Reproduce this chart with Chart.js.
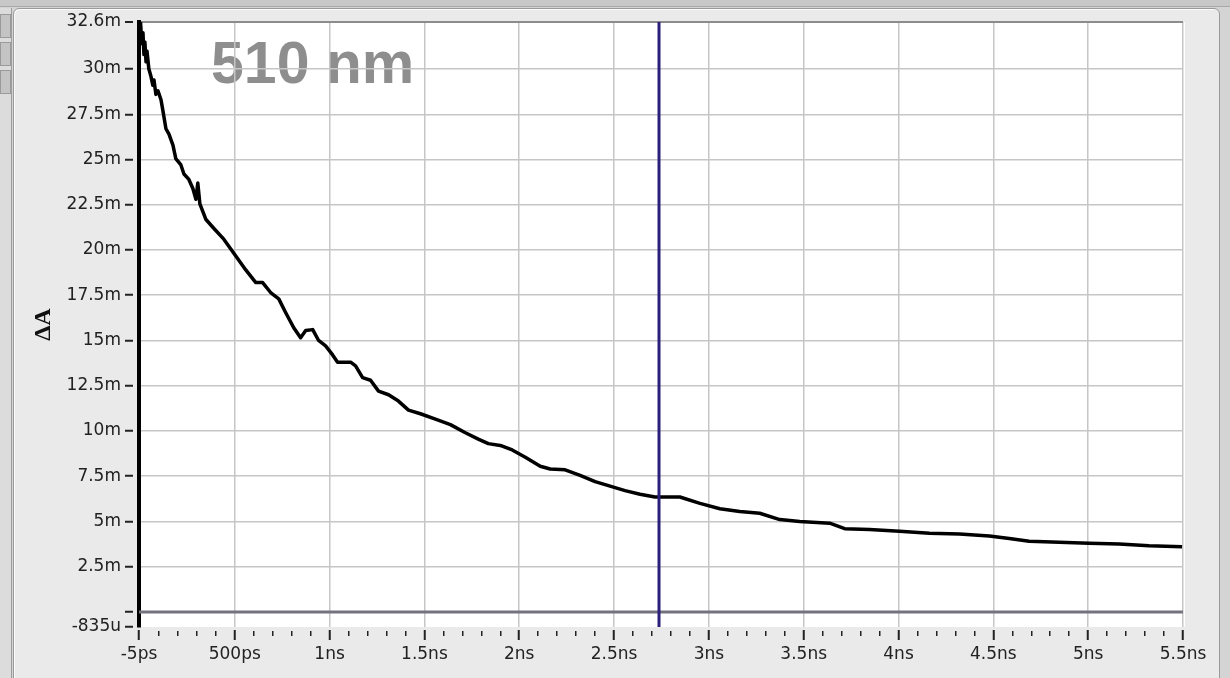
<!DOCTYPE html>
<html>
<head>
<meta charset="utf-8">
<script src="https://cdn.jsdelivr.net/npm/chart.js@4/dist/chart.umd.min.js"></script>
<style>
  body { margin: 0; background: #d4d4d4; width: 1230px; height: 678px; overflow: hidden; position: relative; }
  .topbar { position: absolute; left: 0; top: 0; width: 1230px; height: 6px; background: #c8c8c8; border-bottom: 1px solid #a8a8a8; }
  .strip { position: absolute; left: 0; top: 8px; width: 11px; height: 670px; background: #dcdcdc; border-right: 1px solid #9c9c9c; }
  .btn { position: absolute; left: 0; width: 9px; height: 22px; background: #c4c4c4; border: 1px solid #9a9a9a; }
  .panel { position: absolute; left: 13px; top: 8px; width: 1205px; height: 680px; background: #eaeaea;
           border: 1px solid #9a9a9a; border-radius: 6px; box-shadow: inset 1px 1px 0 #fafafa; }
  canvas { position: absolute; left: 0; top: 0; }
</style>
</head>
<body>
<div class="topbar"></div>
<div class="strip">
  <div class="btn" style="top:6px"></div>
  <div class="btn" style="top:34px"></div>
  <div class="btn" style="top:62px"></div>
</div>
<div class="panel"></div>
<canvas id="chart" width="1230" height="678"></canvas>
<script>
// trace: time in ns, dA in milli-units
const time_ns = [0.003, 0.01, 0.016, 0.021, 0.026, 0.032, 0.037, 0.047, 0.058, 0.068,
    0.074, 0.084, 0.095, 0.111, 0.121, 0.137, 0.153, 0.174, 0.189, 0.216,
    0.232, 0.258, 0.279, 0.295, 0.305, 0.316, 0.347, 0.389, 0.442, 0.479,
    0.558, 0.611, 0.647, 0.689, 0.732, 0.768, 0.811, 0.847, 0.874, 0.911,
    0.942, 0.979, 1.016, 1.042, 1.111, 1.137, 1.174, 1.216, 1.258, 1.311,
    1.363, 1.416, 1.479, 1.558, 1.637, 1.716, 1.784, 1.837, 1.9, 1.963,
    2.032, 2.111, 2.163, 2.242, 2.321, 2.4, 2.479, 2.558, 2.637, 2.716,
    2.847, 2.953, 3.058, 3.163, 3.268, 3.374, 3.479, 3.637, 3.716, 3.847,
    4.005, 4.163, 4.321, 4.479, 4.584, 4.689, 4.847, 5.005, 5.163, 5.321, 5.495]
const delta_a_m = [32.6, 31.4, 32.0, 30.8, 31.5, 30.4, 31.0, 30.0, 29.6, 29.1,
    29.4, 28.6, 28.8, 28.3, 27.7, 26.7, 26.4, 25.8, 25.05, 24.7,
    24.2, 23.9, 23.4, 22.8, 23.7, 22.55, 21.7, 21.2, 20.6, 20.05,
    18.9, 18.2, 18.2, 17.65, 17.3, 16.55, 15.7, 15.15, 15.55, 15.6,
    15.0, 14.7, 14.2, 13.8, 13.8, 13.6, 12.95, 12.8, 12.2, 12.0,
    11.65, 11.15, 10.95, 10.65, 10.35, 9.9, 9.55, 9.3, 9.2, 8.95,
    8.55, 8.05, 7.9, 7.85, 7.55, 7.2, 6.95, 6.7, 6.5, 6.35,
    6.35, 6.0, 5.7, 5.55, 5.45, 5.1, 5.0, 4.9, 4.6, 4.55,
    4.45, 4.35, 4.3, 4.2, 4.05, 3.9, 3.85, 3.8, 3.75, 3.65, 3.6]

const cursor_ns = 2.737
const baseline_m = 0

const x_range = [-0.005, 5.5]
const y_range = [-0.835, 32.6]

const x_major_ticks = [-0.005, 0.5, 1, 1.5, 2, 2.5, 3, 3.5, 4, 4.5, 5, 5.5]
const x_tick_labels = ['-5ps', '500ps', '1ns', '1.5ns', '2ns', '2.5ns', '3ns', '3.5ns', '4ns', '4.5ns', '5ns', '5.5ns']
const x_minor_step = 0.1

const y_ticks = [-0.835, 0, 2.5, 5, 7.5, 10, 12.5, 15, 17.5, 20, 22.5, 25, 27.5, 30, 32.6]
const y_tick_labels = ['-835u', '', '2.5m', '5m', '7.5m', '10m', '12.5m', '15m', '17.5m', '20m', '22.5m', '25m', '27.5m', '30m', '32.6m']

const title_text = '510 nm'
const y_title = 'ΔA'

const is_major = v => x_major_ticks.some(m => Math.abs(m - v) < 1e-6)

// x ticks: majors plus 100ps minors between them
const build_x_ticks = scale => {
    const vals = [...x_major_ticks]
    for (let k = 1; k * x_minor_step < x_range[1] - 1e-6; k++) {
        const v = Math.round(k * x_minor_step * 10) / 10
        if (!is_major(v)) vals.push(v)
    }
    vals.sort((a, b) => a - b)
    scale.ticks = vals.map(value => ({ value }))
}

const frame_plugin = {
    id: 'frame',
    beforeDraw(chart) {
        const { ctx, chartArea: a } = chart
        ctx.save()
        ctx.fillStyle = '#ffffff'
        ctx.fillRect(a.left, a.top, a.right - a.left + 2, a.bottom - a.top)
        ctx.fillStyle = '#8e8e8e'
        ctx.font = 'bold 59px "Liberation Sans", Arial, sans-serif'
        ctx.textBaseline = 'alphabetic'
        ctx.fillText(title_text, 211, 83)
        ctx.restore()
    },
    afterDraw(chart) {
        const { ctx, chartArea: a } = chart
        ctx.save()
        ctx.translate(44, (a.top + a.bottom) / 2)
        ctx.rotate(-Math.PI / 2)
        ctx.fillStyle = '#111111'
        ctx.font = 'bold 24px "Liberation Serif", "Times New Roman", serif'
        ctx.textAlign = 'center'
        ctx.textBaseline = 'middle'
        ctx.fillText(y_title, 0, 0)
        ctx.restore()
    }
}

new Chart(document.getElementById('chart'), {
    type: 'scatter',
    data: {
        datasets: [
            {
                label: 'baseline',
                data: x_range.map(x => ({ x, y: baseline_m })),
                showLine: true,
                borderColor: '#73737f',
                borderWidth: 3,
                pointRadius: 0,
                order: 3,
            },
            {
                label: 'trace',
                data: time_ns.map((x, i) => ({ x, y: delta_a_m[i] })),
                showLine: true,
                borderColor: '#000000',
                borderWidth: 3.5,
                pointRadius: 0,
                borderJoinStyle: 'round',
                order: 2,
            },
            {
                label: 'cursor',
                data: y_range.map(y => ({ x: cursor_ns, y })),
                showLine: true,
                borderColor: '#2b1f7c',
                borderWidth: 3,
                pointRadius: 0,
                order: 1,
            },
        ]
    },
    options: {
        responsive: false,
        animation: false,
        layout: { padding: { left: 0, top: 22, right: 47, bottom: 0 } },
        plugins: { legend: { display: false }, tooltip: { enabled: false } },
        scales: {
            x: {
                type: 'linear',
                min: x_range[0],
                max: x_range[1],
                afterBuildTicks: build_x_ticks,
                afterFit: s => { s.height = 51 },
                border: { display: false },
                grid: {
                    color: c => is_major(c.tick.value) && c.index > 0 ? '#c6c6c6' : 'rgba(0,0,0,0)',
                    lineWidth: 1.5,
                    tickLength: 14,
                    tickColor: '#222222',
                    tickWidth: c => is_major(c.tick.value) ? 2 : 1.5,
                    tickBorderDash: c => is_major(c.tick.value) ? [0, 3, 10, 100] : [0, 4, 5, 100],
                },
                ticks: {
                    autoSkip: false,
                    maxRotation: 0,
                    padding: 3,
                    color: '#222222',
                    font: { family: '"DejaVu Sans", sans-serif', size: 17 },
                    callback: (v) => {
                        const i = x_major_ticks.findIndex(m => Math.abs(m - v) < 1e-6)
                        return i >= 0 ? x_tick_labels[i] : ''
                    }
                }
            },
            y: {
                type: 'linear',
                min: y_range[0],
                max: y_range[1],
                afterBuildTicks: s => { s.ticks = y_ticks.map(value => ({ value })) },
                afterFit: s => { s.width = 139 },
                border: { display: true, color: '#000000', width: 4 },
                grid: {
                    color: c => {
                        const v = c.tick.value
                        if (v === y_range[1]) return '#8c8c8c'
                        if (v <= 0) return 'rgba(0,0,0,0)'
                        return '#c6c6c6'
                    },
                    lineWidth: c => c.tick.value === y_range[1] ? 2 : 1.5,
                    tickLength: 14,
                    tickColor: '#222222',
                    tickWidth: 2,
                    tickBorderDash: [8, 20],
                },
                ticks: {
                    autoSkip: false,
                    padding: 4,
                    color: '#222222',
                    font: { family: '"DejaVu Sans", sans-serif', size: 17 },
                    callback: (v, i) => y_tick_labels[i]
                }
            }
        }
    },
    plugins: [frame_plugin]
})
</script>
</body>
</html>
